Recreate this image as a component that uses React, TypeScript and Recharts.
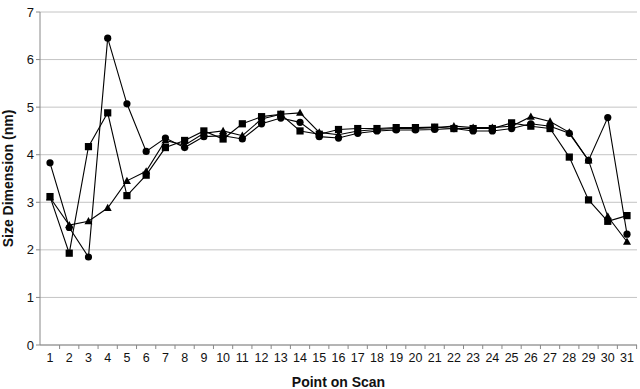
import React from 'react';
import { LineChart, Line, XAxis, YAxis, CartesianGrid } from 'recharts';

const points = [1,2,3,4,5,6,7,8,9,10,11,12,13,14,15,16,17,18,19,20,21,22,23,24,25,26,27,28,29,30,31];
const circleSeries = [3.83,2.47,1.85,6.45,5.07,4.07,4.35,4.15,4.38,4.4,4.33,4.65,4.77,4.68,4.38,4.35,4.45,4.5,4.52,4.52,4.53,4.55,4.5,4.5,4.55,4.65,4.6,4.45,3.88,4.78,2.33];
const squareSeries = [3.12,1.93,4.17,4.88,3.14,3.57,4.15,4.3,4.5,4.33,4.65,4.8,4.85,4.5,4.43,4.53,4.55,4.55,4.57,4.57,4.58,4.55,4.55,4.55,4.67,4.6,4.55,3.95,3.05,2.6,2.72];
const triangleSeries = [3.1,2.52,2.6,2.88,3.45,3.65,4.3,4.2,4.45,4.5,4.4,4.75,4.85,4.88,4.47,4.42,4.5,4.53,4.55,4.55,4.57,4.6,4.57,4.57,4.6,4.8,4.7,4.47,3.88,2.7,2.17];
const yTicks = [0,1,2,3,4,5,6,7];

const data = points.map((p, i) => ({ p, c: circleSeries[i], s: squareSeries[i], t: triangleSeries[i] }));

const FONT = '"Liberation Sans", Arial, sans-serif';

const CircleDot = (props: any) => {
  const { cx, cy, key } = props;
  return <circle key={key} cx={cx} cy={cy} r={3.6} fill="#000" />;
};
const SquareDot = (props: any) => {
  const { cx, cy, key } = props;
  return <rect key={key} x={cx - 3.6} y={cy - 3.6} width={7.2} height={7.2} fill="#000" />;
};
const TriDot = (props: any) => {
  const { cx, cy, key } = props;
  return <polygon key={key} points={`${cx},${cy - 4.2} ${cx + 4},${cy + 3} ${cx - 4},${cy + 3}`} fill="#000" />;
};

const XTick = (props: any) => {
  const { x, y, payload } = props;
  return (
    <g>
      <line x1={x + 9.6} y1={y - 8} x2={x + 9.6} y2={y - 4} stroke="#888" />
      <text x={x} y={y + 9} textAnchor="middle" fontSize={12.5} fill="#111" fontFamily={FONT}>{payload.value}</text>
    </g>
  );
};

export default function App() {
  return (
    <div style={{ position: 'absolute', left: 0, top: 0, width: 640, height: 389, background: '#fff' }}>
      <LineChart width={640} height={389} data={data} margin={{ top: 12, right: 3, left: 0, bottom: 0 }}>
        <CartesianGrid vertical={false} stroke="#c4c4c4" strokeWidth={1} />
        <XAxis
          dataKey="p"
          height={44}
          stroke="#888"
          tickLine={false}
          tick={<XTick />}
          interval={0}
          padding={{ left: 10, right: 10 }}
          label={{ value: 'Point on Scan', position: 'insideBottom', offset: 2, style: { fontFamily: FONT, fontWeight: 'bold', fontSize: 14, fill: '#111' } }}
        />
        <YAxis
          width={40}
          domain={[0, 7]}
          ticks={yTicks}
          stroke="#888"
          tickSize={4}
          tick={{ fontFamily: FONT, fontSize: 13, fill: '#111' }}
          label={{ value: 'Size Dimension (nm)', angle: -90, position: 'insideLeft', offset: 0, dx: 8, style: { textAnchor: 'middle', fontFamily: FONT, fontWeight: 'bold', fontSize: 14, fill: '#111' } }}
        />
        <YAxis yAxisId="right" orientation="right" width={0} domain={[0, 7]} tick={false} tickLine={false} stroke="#aaa" />
        <Line dataKey="c" stroke="#000" strokeWidth={1.1} dot={CircleDot} isAnimationActive={false} />
        <Line dataKey="s" stroke="#000" strokeWidth={1.1} dot={SquareDot} isAnimationActive={false} />
        <Line dataKey="t" stroke="#000" strokeWidth={1.1} dot={TriDot} isAnimationActive={false} />
      </LineChart>
    </div>
  );
}
